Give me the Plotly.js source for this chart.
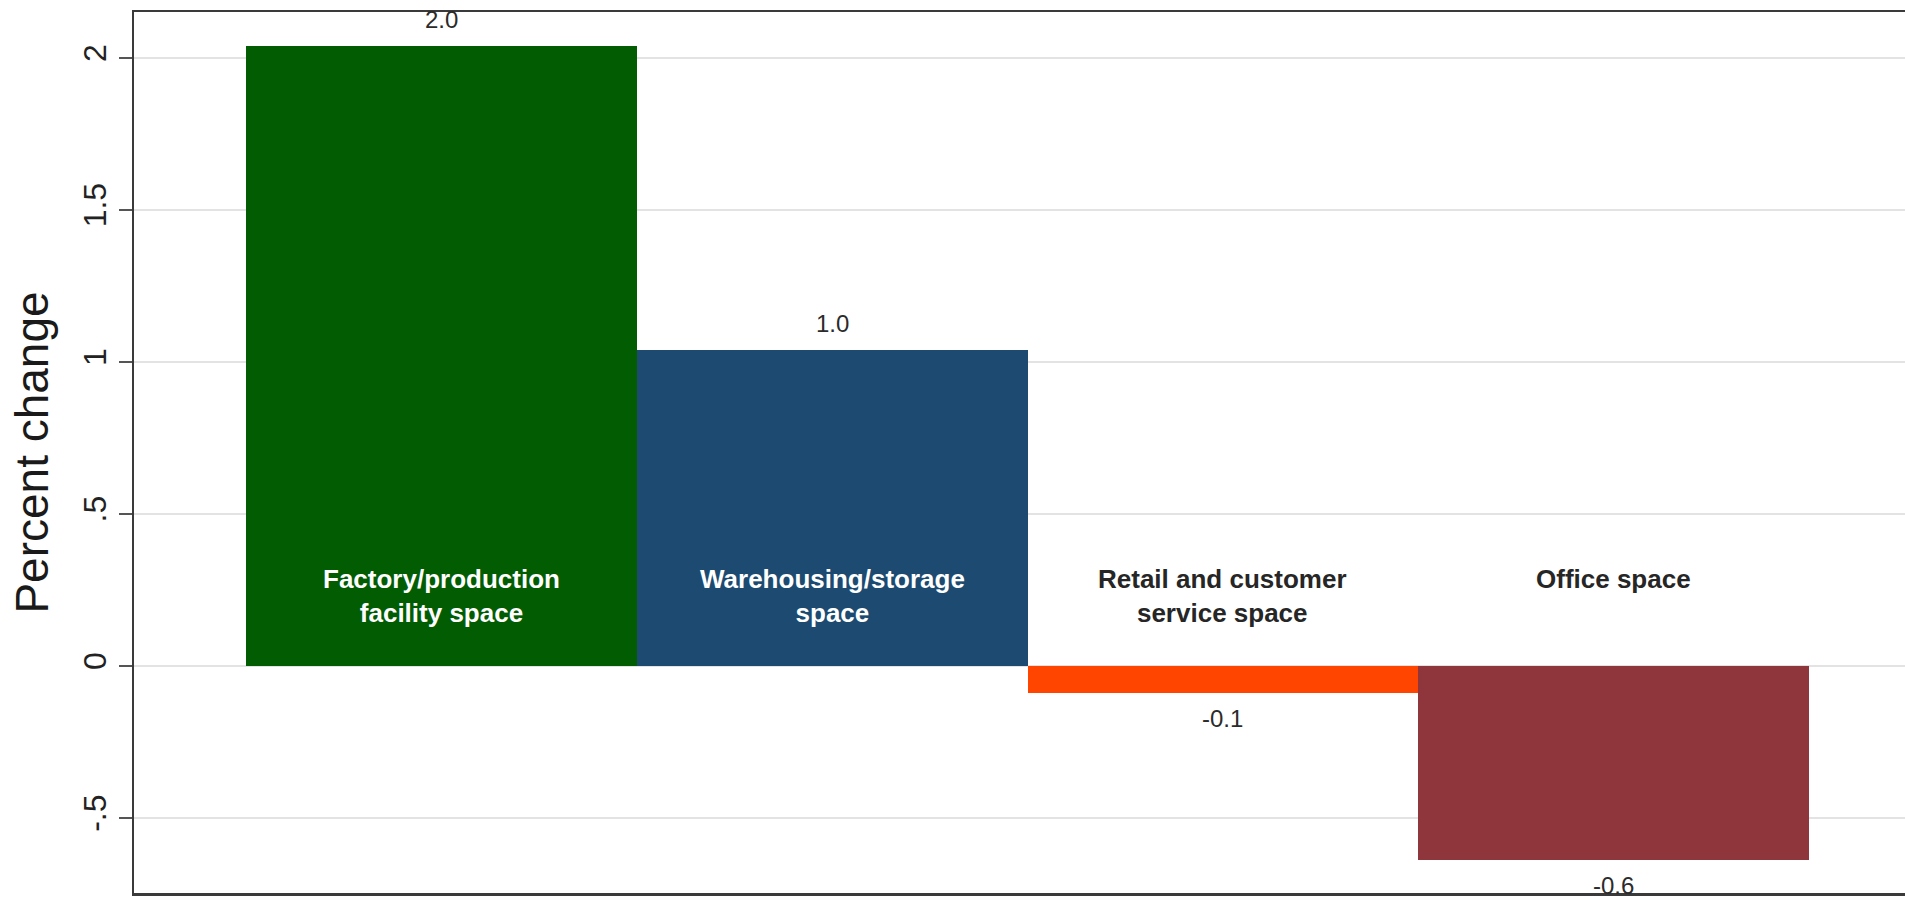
<!DOCTYPE html>
<html>
<head>
<meta charset="utf-8">
<script src="https://cdn.plot.ly/plotly-3.0.1.min.js"></script>
<style>
  html, body { margin: 0; padding: 0; background: #ffffff; }
  #chart { width: 1905px; height: 899px; }
</style>
</head>
<body>
<div id="chart"></div>
<script>
// ---- data ----
const categories = [
  "Factory/production<br>facility space",
  "Warehousing/storage<br>space",
  "Retail and customer<br>service space",
  "Office space"
];
const positions = [1, 2, 3, 4];
const values = [2.04, 1.04, -0.09, -0.64];
const barColors = ["#025c02", "#1c4a70", "#ff4500", "#8f353c"];
const categoryLabelColors = ["#ffffff", "#ffffff", "#262626", "#262626"];
const yTickVals = [-0.5, 0, 0.5, 1, 1.5, 2];
const yTickText = ["-.5", "0", ".5", "1", "1.5", "2"];
const categoryLabelY = 0.342;

const FONT = "Arial, 'Liberation Sans', sans-serif";

const trace = {
  type: "bar",
  x: positions,
  y: values,
  marker: { color: barColors, line: { width: 0 } },
  width: 1,
  hoverinfo: "x+y",
  showlegend: false
};

const annotations = [];
values.forEach((v, i) => {
  annotations.push({
    x: positions[i], y: v, xref: "x", yref: "y",
    text: v.toFixed(1),
    showarrow: false,
    yanchor: "middle",
    yshift: v >= 0 ? 26 : -25,
    font: { family: FONT, size: 24, color: "#2b2b2b" }
  });
  annotations.push({
    x: positions[i], y: categoryLabelY, xref: "x", yref: "y",
    text: "<b>" + categories[i] + "</b>",
    showarrow: false,
    yanchor: "top",
    align: "center",
    font: { family: FONT, size: 26, color: categoryLabelColors[i] }
  });
});

const layout = {
  width: 1905,
  height: 899,
  margin: { l: 134, r: 0, t: 12, b: 6 },
  paper_bgcolor: "#ffffff",
  plot_bgcolor: "#ffffff",
  bargap: 0,
  showlegend: false,
  xaxis: {
    range: [0.214, 4.745],
    showticklabels: false,
    ticks: "",
    showgrid: false,
    zeroline: false,
    showline: true,
    mirror: true,
    linecolor: "#3a3a3a",
    linewidth: 2.5,
    fixedrange: true
  },
  yaxis: {
    range: [-0.747, 2.151],
    tickvals: yTickVals,
    ticktext: yTickText,
    tickangle: -90,
    ticks: "outside",
    ticklen: 13,
    tickwidth: 2,
    tickcolor: "#555555",
    tickfont: { family: FONT, size: 32, color: "#222222" },
    showgrid: true,
    gridcolor: "#e3e3e3",
    gridwidth: 2,
    zeroline: false,
    showline: true,
    linecolor: "#3a3a3a",
    linewidth: 2.5,
    automargin: false,
    title: {
      text: "Percent change",
      font: { family: FONT, size: 46, color: "#1a1a1a" },
      standoff: 14
    },
    fixedrange: true
  },
  annotations: annotations
};

Plotly.newPlot("chart", [trace], layout, { displayModeBar: false, staticPlot: true });
</script>
</body>
</html>
